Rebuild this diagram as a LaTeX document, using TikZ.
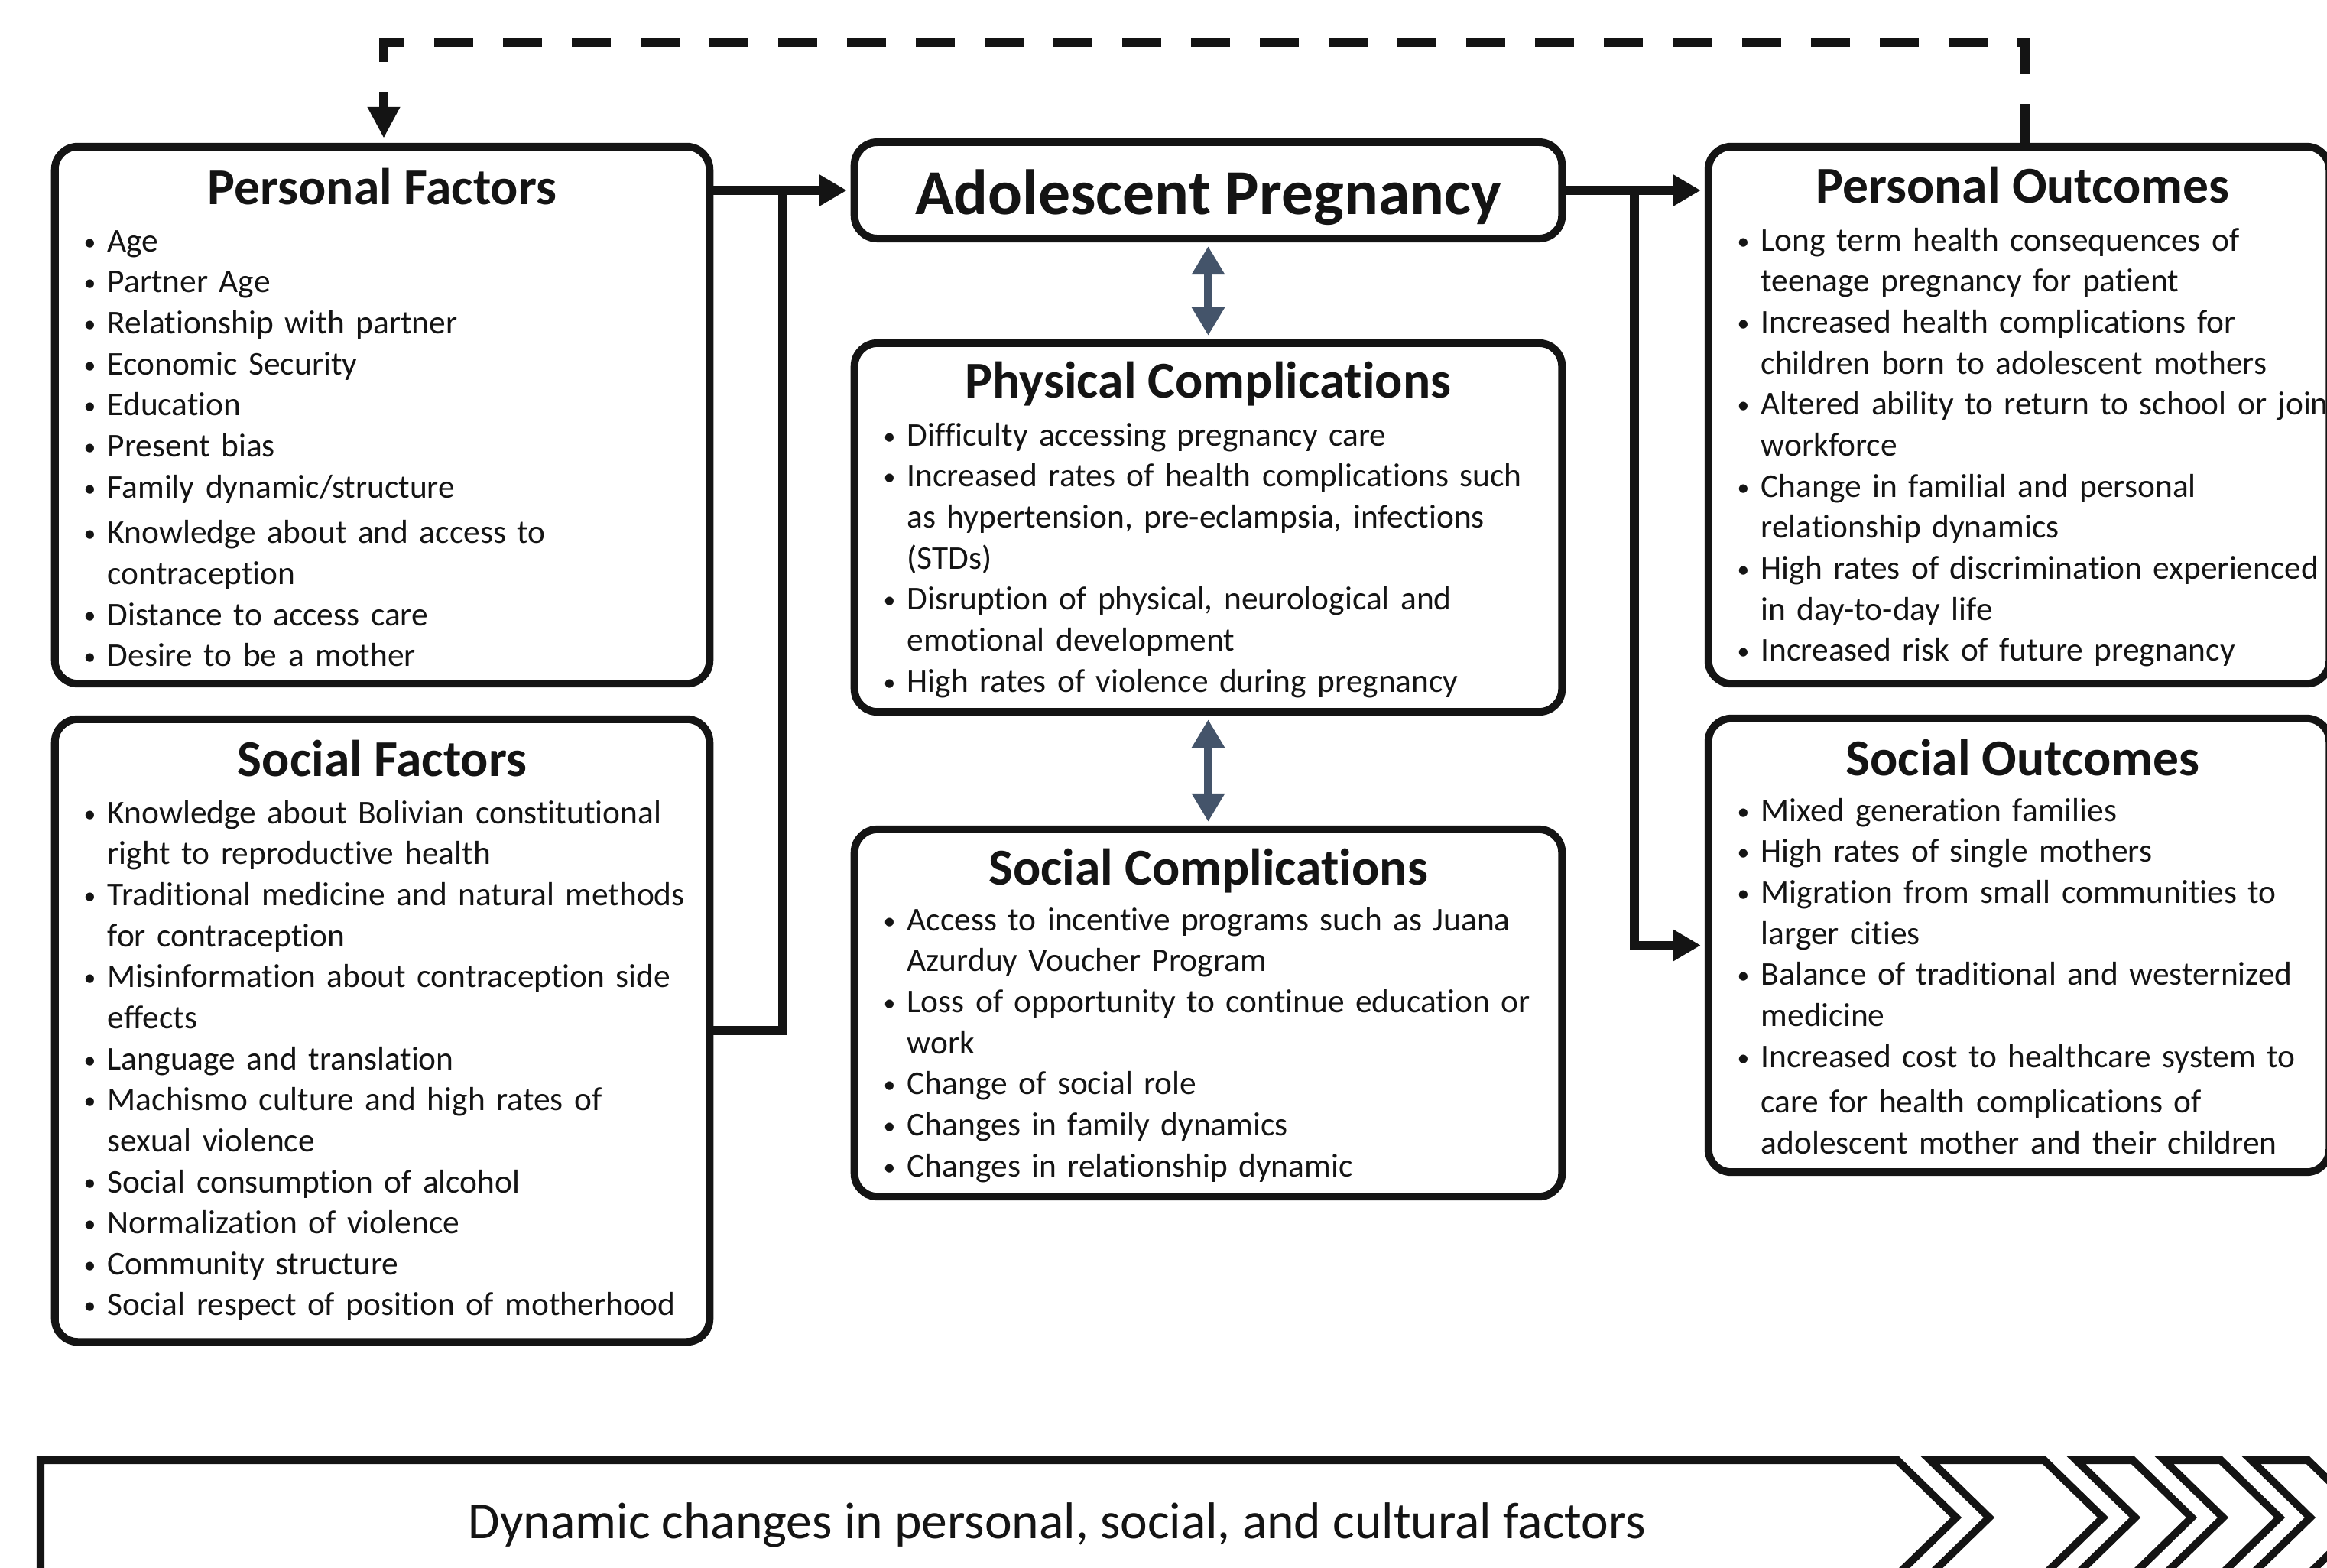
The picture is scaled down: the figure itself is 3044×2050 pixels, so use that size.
\documentclass[tikz,border=0pt]{standalone}
\usepackage{fontspec}
\setmainfont{Carlito}[Ligatures=NoCommon]
\usetikzlibrary{arrows.meta,calc}
\definecolor{ink}{HTML}{141414}
\definecolor{slate}{HTML}{44546A}
\setlength{\parskip}{0pt}
\newcommand{\smbul}{\raisebox{0.6pt}{\fontsize{9}{9}\selectfont\textbullet}}
\newcommand{\bitem}[1]{\par\hangindent=0.33cm\hangafter=1\noindent\hbox to 0.33cm{\hspace{0.02cm}\smbul\hfil}\mbox{#1}}
\newcommand{\bcont}[1]{\par\hangindent=0.33cm\hangafter=1\noindent\hbox to 0.33cm{\hfil}\mbox{#1}}
\newcommand{\cont}[1]{\newline\mbox{#1}}
\newcommand{\fst}{\rule{0pt}{0.4cm}}
\tikzset{
  box/.style={draw=ink, line width=0.1cm, rounded corners=0.3cm, inner sep=0pt},
  ttl/.style={font=\fontsize{19.2}{23}\selectfont\bfseries, text=ink, inner sep=0pt, anchor=base},
  lst/.style={font=\fontsize{12.35}{15.25}\selectfont, text=ink, inner sep=0pt, anchor=north west, text width=8.6cm, align=left},
  wire/.style={draw=ink, line width=0.115cm},
  conn/.style={wire, -{Triangle[length=0.36cm,width=0.39cm]}, shorten >=0.05cm},
  dconn/.style={draw=ink, line width=0.12cm, dash pattern=on 0.51cm off 0.39cm, -{Triangle[length=0.41cm,width=0.40cm]}, shorten >=0.06cm},
  dbl/.style={draw=slate, line width=0.11cm, {Triangle[length=0.37cm,width=0.41cm]}-{Triangle[length=0.37cm,width=0.41cm]}, shorten >=0.05cm, shorten <=0.05cm},
  ban/.style={draw=ink, line width=0.1cm, line join=miter}
}
\begin{document}
\begin{tikzpicture}[x=0.01cm,y=-0.01cm]
\useasboundingbox (0,0) rectangle (3044,2050);
\clip (0,0) rectangle (3044,2050);

% boxes
\node[box, minimum width=8.56cm, minimum height=7.02cm] (pf) at (500,543) {};
\node[box, minimum width=8.56cm, minimum height=8.14cm] (sf) at (500,1348) {};
\node[box, minimum width=9.25cm, minimum height=1.26cm] (ap) at (1580.5,249) {};
\node[box, minimum width=9.25cm, minimum height=4.82cm] (pc) at (1580.5,690) {};
\node[box, minimum width=9.25cm, minimum height=4.80cm] (sc) at (1580.5,1325) {};
\node[box, minimum width=8.12cm, minimum height=7.02cm] (po) at (2641,543) {};
\node[box, minimum width=8.12cm, minimum height=5.93cm] (so) at (2641,1236.5) {};

% titles
\node[ttl] (pft) at (500,267) {Personal Factors};
\node[ttl] (sft) at (500,1015) {Social Factors};
\node[ttl, font=\fontsize{23.8}{28}\selectfont\bfseries] (apt) at (1580.5,280) {Adolescent Pregnancy};
\node[ttl] (pct) at (1580.5,520) {Physical Complications};
\node[ttl] (sct) at (1580.5,1157) {Social Complications};
\node[ttl] (pot) at (2646,265) {Personal Outcomes};
\node[ttl] (sot) at (2646,1014) {Social Outcomes};

% lists
\node[lst] (pfl) at (107,275) {%
\bitem{\fst Age}
\bitem{Partner Age}
\bitem{Relationship with partner}
\bitem{Economic Security}
\bitem{Education}
\bitem{Present bias}
\bitem{Family dynamic/structure}
\par\vspace{0.06cm}
\bitem{Knowledge about and access to}\cont{contraception}
\bitem{Distance to access care}
\bitem{Desire to be a mother}\par};

\node[lst] (sfl) at (107,1023) {%
\bitem{\fst Knowledge about Bolivian constitutional}\cont{right to reproductive health}
\bitem{Traditional medicine and natural methods}\cont{for contraception}
\bitem{Misinformation about contraception side}\cont{effects}
\bitem{Language and translation}
\bitem{Machismo culture and high rates of}\cont{sexual violence}
\bitem{Social consumption of alcohol}
\bitem{Normalization of violence}
\bitem{Community structure}
\bitem{Social respect of position of motherhood}\par};

\node[lst] (pcl) at (1153,529) {%
\bitem{\fst Difficulty accessing pregnancy care}
\bitem{Increased rates of health complications such}\cont{as hypertension, pre-eclampsia, infections}\cont{(STDs)}
\bitem{Disruption of physical, neurological and}\cont{emotional development}
\bitem{High rates of violence during pregnancy}\par};

\node[lst] (scl) at (1153,1163) {%
\bitem{\fst Access to incentive programs such as Juana}\cont{Azurduy Voucher Program}
\bitem{Loss of opportunity to continue education or}\cont{work}
\bitem{Change of social role}
\bitem{Changes in family dynamics}
\bitem{Changes in relationship dynamic}\par};

\node[lst, text width=7.6cm] (pol) at (2270,274) {%
\bitem{\fst Long term health consequences of}\cont{teenage pregnancy for patient}
\bitem{Increased health complications for}\cont{children born to adolescent mothers}
\bitem{Altered ability to return to school or join}\cont{workforce}
\bitem{Change in familial and personal}\cont{relationship dynamics}
\bitem{High rates of discrimination experienced}\cont{in day-to-day life}
\bitem{Increased risk of future pregnancy}\par};

\node[lst, text width=7.6cm] (sol) at (2270,1020) {%
\bitem{\fst Mixed generation families}
\bitem{High rates of single mothers}
\bitem{Migration from small communities to}\cont{larger cities}
\bitem{Balance of traditional and westernized}\cont{medicine}
\bitem{Increased cost to healthcare system to}
\par\vspace{0.06cm}
\bcont{care for health complications of}\cont{adolescent mother and their children}\par};

% connectors
\coordinate (jl) at (1024,249);
\coordinate (jr) at (2138,249);
\draw[conn] (pf.east |- ap.west) -- (ap.west);
\draw[wire] (sf.east) -| (jl);
\draw[conn] (ap.east) -- (po.west |- ap.east);
\draw[conn] (jr) |- (so.west);

\coordinate (dR) at (2649,56);
\coordinate (dL) at (502,56);
\draw[dconn] (po.north -| dR) -- (dR) -- (dL) -- (pf.north -| dL);

\draw[dbl] (ap.south) -- (pc.north);
\draw[dbl] (pc.south) -- (sc.north);

% bottom banner
\draw[ban] (53,2060) -- (53,1910) -- (2482,1910) -- (2559,1985) -- (2482,2060) -- cycle;
\draw[ban] (2525,1910) -- (2674,1910) -- (2751,1985) -- (2674,2060) -- (2525,2060) -- (2602,1985) -- cycle;
\draw[ban] (2716,1910) -- (2790,1910) -- (2867,1985) -- (2790,2060) -- (2716,2060) -- (2793,1985) -- cycle;
\draw[ban] (2831,1910) -- (2905,1910) -- (2982,1985) -- (2905,2060) -- (2831,2060) -- (2908,1985) -- cycle;
\draw[ban] (2945,1910) -- (3019,1910) -- (3096,1985) -- (3019,2060) -- (2945,2060) -- (3022,1985) -- cycle;
\node[font=\fontsize{19.2}{23}\selectfont, text=ink, inner sep=0pt, anchor=base] (bt) at (1383,2012) {Dynamic changes in personal, social, and cultural factors};
\end{tikzpicture}
\end{document}
